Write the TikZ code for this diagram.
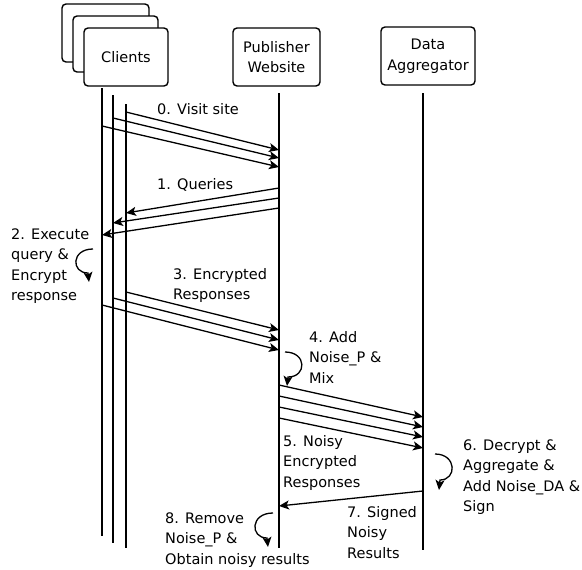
\documentclass[tikz,border=0pt]{standalone}
\usepackage{fontspec}
\setmainfont{DejaVu Sans}
\usetikzlibrary{arrows.meta}
\newcommand\mlines[1]{\vtop{\baselineskip=20.5pt\halign{##\hfil\cr#1\crcr}}}
\begin{document}
\begin{tikzpicture}[x=1pt,y=-1pt,
  txt/.style={font=\fontsize{14.5}{20.5}\selectfont},
  lbl/.style={txt, anchor=base west, inner sep=0pt},
  box/.style={txt, draw, rounded corners=4pt, line width=1.4pt, fill=white, align=center, inner sep=0pt},
  life/.style={line width=1.4pt},
  msg/.style={line width=1.3pt, -{Stealth[length=10pt,width=9pt,inset=2.5pt]}}]
\useasboundingbox (0,0) rectangle (582,570);
% boxes
\node[box, minimum width=87pt, minimum height=58pt] (cb3) at (105.5,33) {};
\node[box, minimum width=85pt, minimum height=56pt] (cb2) at (115.5,44) {};
\node[box, minimum width=84pt, minimum height=58pt] (cb1) at (126,57) {Clients};
\node[box, minimum width=87pt, minimum height=58pt] (pw) at (276.5,57) {Publisher\\Website};
\node[box, minimum width=94pt, minimum height=58pt] (da) at (428,56) {Data\\Aggregator};
% lifelines
\coordinate (c1t) at (102,88);  \coordinate (c1b) at (102,536);
\coordinate (c2t) at (113,95);  \coordinate (c2b) at (113,543);
\coordinate (c3t) at (126,104); \coordinate (c3b) at (126,548);
\coordinate (pwt) at (279,93);  \coordinate (pwb) at (279,548);
\coordinate (dat) at (423,93);  \coordinate (dab) at (423,550);
\draw[life] (c1t) -- (c1b);
\draw[life] (c2t) -- (c2b);
\draw[life] (c3t) -- (c3b);
\draw[life] (pwt) -- (pwb);
\draw[life] (dat) -- (dab);
% 0. visit site
\draw[msg] (c3t|-0,112) -- (pwt|-0,150);
\draw[msg] (c2t|-0,118) -- (pwt|-0,158);
\draw[msg] (c1t|-0,126) -- (pwt|-0,167);
% 1. queries
\draw[msg] (pwt|-0,188) -- (c3t|-0,213);
\draw[msg] (pwt|-0,198) -- (c2t|-0,223);
\draw[msg] (pwt|-0,208) -- (c1t|-0,235);
% 3. encrypted responses
\draw[msg] (c3t|-0,292) -- (pwt|-0,330);
\draw[msg] (c2t|-0,298) -- (pwt|-0,340);
\draw[msg] (c1t|-0,305) -- (pwt|-0,350);
% 5. noisy encrypted responses
\draw[msg] (pwt|-0,385) -- (dat|-0,417);
\draw[msg] (pwt|-0,396) -- (dat|-0,427);
\draw[msg] (pwt|-0,407) -- (dat|-0,437);
\draw[msg] (pwt|-0,418) -- (dat|-0,448);
% 7. signed noisy results
\draw[msg] (dat|-0,491) -- (pwt|-0,506);
% self loops
\coordinate (l2s) at (93,249);  \coordinate (l2e) at (89,282);
\coordinate (l4s) at (285,352); \coordinate (l4e) at (287,386);
\coordinate (l6s) at (435,454); \coordinate (l6e) at (439,490);
\coordinate (l8s) at (273,513); \coordinate (l8e) at (268,547);
\draw[msg] (l2s) .. controls (71,249) and (71,273) .. (88,273) -- (l2e);
\draw[msg] (l4s) .. controls (307,352) and (307,377) .. (288,377) -- (l4e);
\draw[msg] (l6s) .. controls (457,454) and (457,480) .. (440,480) -- (l6e);
\draw[msg] (l8s) .. controls (250,513) and (250,538) .. (267,538) -- (l8e);
% labels
\node[lbl] (t0) at (157,114) {\mlines{0. Visit site}};
\node[lbl] (t1) at (157,189) {\mlines{1. Queries}};
\node[lbl] (t2) at (11,239) {\mlines{2. Execute\cr query \&\cr Encrypt\cr response}};
\node[lbl] (t3) at (173,279) {\mlines{3. Encrypted\cr Responses}};
\node[lbl] (t4) at (309,342) {\mlines{4. Add\cr Noise\_P \&\cr Mix}};
\node[lbl] (t5) at (283,446) {\mlines{5. Noisy\cr Encrypted\cr Responses}};
\node[lbl] (t6) at (463,450) {\mlines{6. Decrypt \&\cr Aggregate \&\cr Add Noise\_DA \&\cr Sign}};
\node[lbl] (t7) at (347,517) {\mlines{7. Signed\cr Noisy\cr Results}};
\node[lbl] (t8) at (165,523) {\mlines{8. Remove\cr Noise\_P \&\cr Obtain noisy results}};
\end{tikzpicture}
\end{document}
